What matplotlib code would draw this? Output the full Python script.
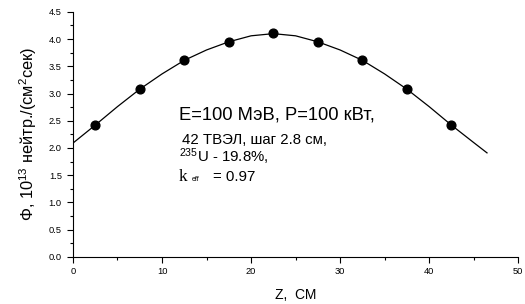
import matplotlib
matplotlib.use("Agg")
import matplotlib.pyplot as plt
from matplotlib.ticker import MultipleLocator

plt.rcParams['font.family'] = ['Liberation Sans', 'DejaVu Sans']
plt.rcParams['mathtext.fontset'] = 'custom'
plt.rcParams['mathtext.rm'] = 'Liberation Sans'
plt.rcParams['mathtext.it'] = 'Liberation Sans:italic'
plt.rcParams['mathtext.bf'] = 'Liberation Sans:bold'

# measured points
z_pts = [2.5, 7.5, 12.5, 17.5, 22.5, 27.5, 32.5, 37.5, 42.5]
phi_pts = [2.42, 3.08, 3.61, 3.95, 4.11, 3.95, 3.61, 3.08, 2.42]

# calculated curve
z_curve = [0, 2.5, 5, 7.5, 10, 12.5, 15, 17.5, 20, 22.5, 25, 27.5, 30, 32.5, 35,
           37.5, 40, 42.5, 45, 46.5]
phi_curve = [2.09, 2.42, 2.76, 3.08, 3.36, 3.61, 3.80, 3.95, 4.06, 4.10, 4.06, 3.95,
             3.80, 3.61, 3.36, 3.08, 2.76, 2.42, 2.10, 1.91]

fig = plt.figure(figsize=(5.25, 3.04), dpi=100)
ax = fig.add_axes([0.139, 0.155, 0.848, 0.806])

ax.plot(z_curve, phi_curve, color='black', lw=0.9)
ax.plot(z_pts, phi_pts, 'o', color='black', ms=6.3)

ax.set_xlim(0, 50)
ax.set_ylim(0, 4.5)
ax.xaxis.set_major_locator(MultipleLocator(10))
ax.xaxis.set_minor_locator(MultipleLocator(5))
ax.yaxis.set_minor_locator(MultipleLocator(0.25))
ax.set_yticks([0, 0.5, 1, 1.5, 2, 2.5, 3, 3.5, 4, 4.5])
ax.set_yticklabels(['0.0', '0.5', '1.0', '1.5', '2.0', '2.5', '3.0', '3.5', '4.0', '4.5'])
for s in ['top', 'right']:
    ax.spines[s].set_visible(False)
ax.tick_params(which='both', direction='out', labelsize=6.7, width=0.8)
ax.tick_params(axis='y', pad=4)
ax.tick_params(axis='x', pad=3)
ax.tick_params(which='major', length=4)
ax.tick_params(which='minor', length=2.5)

ax.set_xlabel('Z,  СМ', fontsize=10, labelpad=9)
ax.set_ylabel('Φ, 10$^{13}$ нейтр./(см$^{2}$сек)', fontsize=11.8, labelpad=7)

ax.text(11.9, 2.52, 'E=100 МэВ, P=100 кВт,', fontsize=13.2)
ax.text(12.2, 2.08, '42 ТВЭЛ, шаг 2.8 см,', fontsize=10.8)
ax.text(11.9, 1.74, '$^{235}$U - 19.8%,', fontsize=10.8)
ax.text(11.9, 1.40, 'k', fontsize=12.5, family='Liberation Serif')
ax.text(13.3, 1.40, 'eff', fontsize=5)
ax.text(15.7, 1.40, '= 0.97', fontsize=10.8)

fig.savefig('out.png', dpi=100)
